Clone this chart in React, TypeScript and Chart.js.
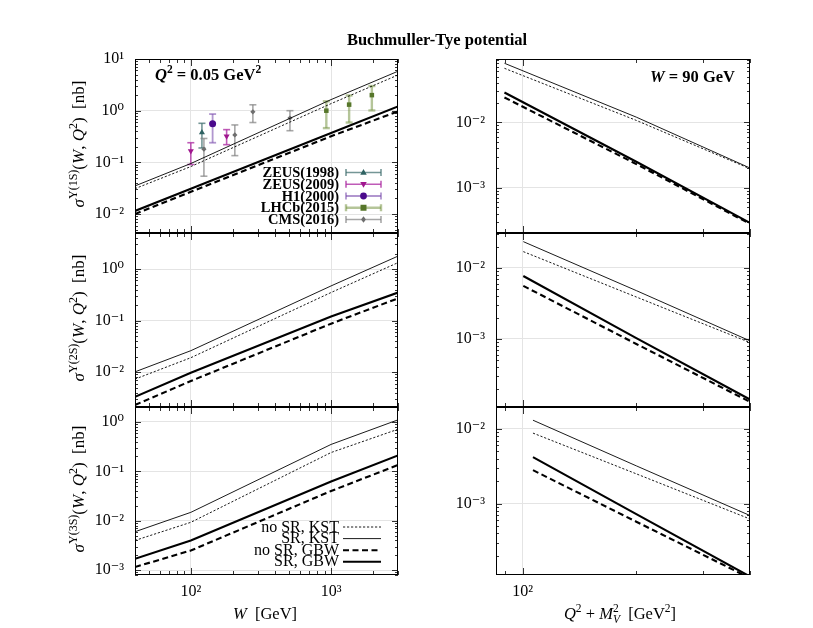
import { useEffect, useRef } from "react";
import { Chart, registerables } from "chart.js";

Chart.register(...registerables);

const FONT = '"Liberation Serif", "DejaVu Serif", serif';

// ---------------- data ----------------
// left column: cross section vs W at Q^2 = 0.05 GeV^2
const W_GEV = [40, 100, 1000, 3000];
const U1S_NOSR_KST = [0.031, 0.083, 1.37, 4.9];
const U1S_SR_KST = [0.035, 0.095, 1.64, 5.8];
const U1S_NOSR_GBW = [0.01, 0.027, 0.32, 0.97];
const U1S_SR_GBW = [0.0115, 0.031, 0.37, 1.21];

const U2S_NOSR_KST = [0.0073, 0.019, 0.35, 1.33];
const U2S_SR_KST = [0.0101, 0.026, 0.47, 1.78];
const U2S_NOSR_GBW = [0.0023, 0.0067, 0.087, 0.27];
const U2S_SR_GBW = [0.0033, 0.0097, 0.12, 0.35];

const U3S_NOSR_KST = [0.004, 0.0093, 0.24, 0.71];
const U3S_SR_KST = [0.006, 0.0148, 0.35, 1.1];
const U3S_NOSR_GBW = [0.00116, 0.0025, 0.04, 0.134];
const U3S_SR_GBW = [0.0017, 0.004, 0.062, 0.21];

// right column: cross section vs Q^2 + M_V^2 at W = 90 GeV
const Q2M2_1S = [89.5, 200, 400];
const Q1S_NOSR_KST = [0.067, 0.0107, 0.00195];
const Q1S_SR_KST = [0.08, 0.012, 0.002];
const Q1S_NOSR_GBW = [0.024, 0.0023, 0.00028];
const Q1S_SR_GBW = [0.0286, 0.0025, 0.00029];

const Q2M2_2S = [100.4, 200, 400];
const Q2S_NOSR_KST = [0.017, 0.0039, 0.00089];
const Q2S_SR_KST = [0.0235, 0.0048, 0.00094];
const Q2S_NOSR_GBW = [0.0056, 0.00085, 0.00013];
const Q2S_SR_GBW = [0.0077, 0.00103, 0.00014];

const Q2M2_3S = [106.5, 200, 400];
const Q3S_NOSR_KST = [0.0088, 0.0025, 0.00062];
const Q3S_SR_KST = [0.0131, 0.0032, 0.00069];
const Q3S_NOSR_GBW = [0.0028, 0.00057, 0.0001];
const Q3S_SR_GBW = [0.0042, 0.00072, 0.000105];

// experimental data, Upsilon(1S) photoproduction
const ZEUS1998_W = [120];
const ZEUS1998_S = [0.38];
const ZEUS1998_LO = [0.19];
const ZEUS1998_HI = [0.57];

const ZEUS2009_W = [100, 180];
const ZEUS2009_S = [0.166, 0.32];
const ZEUS2009_LO = [0.091, 0.22];
const ZEUS2009_HI = [0.24, 0.43];

const H1_W = [143];
const H1_S = [0.556];
const H1_LO = [0.24];
const H1_HI = [0.86];

const LHCB_W = [925, 1345, 1953];
const LHCB_S = [1.0, 1.31, 2.0];
const LHCB_LO = [0.46, 0.59, 1.01];
const LHCB_HI = [1.52, 1.97, 3.0];

const CMS_W = [124, 206, 277, 509];
const CMS_S = [0.18, 0.34, 0.95, 0.72];
const CMS_LO = [0.054, 0.135, 0.59, 0.41];
const CMS_HI = [0.29, 0.53, 1.3, 1.0];

const LINE_LABELS = ["no SR, KST", "SR, KST", "no SR, GBW", "SR, GBW"];
const X_MAJOR_W = [100, 1000];
const X_MAJOR_Q = [100];

// ---------------- styling ----------------
const LINE_STYLES = [
  { width: 0.9, dash: [2.2, 1.8] },
  { width: 0.9, dash: [] as number[] },
  { width: 2.1, dash: [6, 3.5] },
  { width: 2.1, dash: [] as number[] },
];

type PtGroup = {
  label: string;
  x: number[];
  y: number[];
  lo: number[];
  hi: number[];
  marker: string;
  color: string;
  bar: string;
  barW: number;
};

const GROUPS: PtGroup[] = [
  { label: "ZEUS(1998)", x: ZEUS1998_W, y: ZEUS1998_S, lo: ZEUS1998_LO, hi: ZEUS1998_HI, marker: "tri", color: "#2f6262", bar: "rgba(70,115,115,0.75)", barW: 1.6 },
  { label: "ZEUS(2009)", x: ZEUS2009_W, y: ZEUS2009_S, lo: ZEUS2009_LO, hi: ZEUS2009_HI, marker: "tridown", color: "#a0168e", bar: "rgba(175,50,165,0.8)", barW: 1.6 },
  { label: "H1(2000)", x: H1_W, y: H1_S, lo: H1_LO, hi: H1_HI, marker: "circle", color: "#4b0a8c", bar: "rgba(125,80,175,0.6)", barW: 1.8 },
  { label: "LHCb(2015)", x: LHCB_W, y: LHCB_S, lo: LHCB_LO, hi: LHCB_HI, marker: "square", color: "#56762a", bar: "rgba(120,150,70,0.55)", barW: 2.4 },
  { label: "CMS(2016)", x: CMS_W, y: CMS_S, lo: CMS_LO, hi: CMS_HI, marker: "diamond", color: "#6e6e6e", bar: "rgba(130,130,130,0.7)", barW: 1.6 },
];

const SUP: Record<string, string> = {
  "-": "\u207B", "0": "\u2070", "1": "\u00B9", "2": "\u00B2", "3": "\u00B3",
  "4": "\u2074", "5": "\u2075", "6": "\u2076", "7": "\u2077", "8": "\u2078", "9": "\u2079",
};
function decadeLabel(v: number) {
  const e = Math.round(Math.log10(v));
  return "10" + String(e).split("").map((c) => SUP[c]).join("");
}

type Seg = { t: string; s?: number; i?: boolean; dy?: number; na?: boolean };
function segFont(sg: Seg, base: number, bold: boolean) {
  return `${sg.i ? "italic " : ""}${bold ? "bold " : ""}${sg.s ?? base}px ${FONT}`;
}
function drawRich(ctx: CanvasRenderingContext2D, segs: Seg[], x: number, y: number, align: string, base: number, bold = false, rot = false) {
  ctx.save();
  let w = 0;
  for (const sg of segs) {
    ctx.font = segFont(sg, base, bold);
    if (!sg.na) w += ctx.measureText(sg.t).width;
  }
  ctx.translate(x, y);
  if (rot) ctx.rotate(-Math.PI / 2);
  let cx = align === "left" ? 0 : align === "center" ? -w / 2 : -w;
  ctx.fillStyle = "#000";
  ctx.textBaseline = "alphabetic";
  ctx.textAlign = "left";
  for (const sg of segs) {
    ctx.font = segFont(sg, base, bold);
    ctx.fillText(sg.t, cx, sg.dy ?? 0);
    if (!sg.na) cx += ctx.measureText(sg.t).width;
  }
  ctx.restore();
}

function drawMarker(ctx: CanvasRenderingContext2D, m: string, x: number, y: number, color: string) {
  ctx.save();
  ctx.fillStyle = color;
  ctx.beginPath();
  const r = 3.6;
  if (m === "tri") {
    ctx.moveTo(x, y - r); ctx.lineTo(x + r * 0.9, y + r * 0.6); ctx.lineTo(x - r * 0.9, y + r * 0.6);
  } else if (m === "tridown") {
    ctx.moveTo(x, y + r); ctx.lineTo(x + r * 0.9, y - r * 0.6); ctx.lineTo(x - r * 0.9, y - r * 0.6);
  } else if (m === "circle") {
    ctx.arc(x, y, 3.4, 0, Math.PI * 2);
  } else if (m === "square") {
    ctx.rect(x - 3, y - 3, 6, 6);
  } else {
    ctx.moveTo(x, y - 3.2); ctx.lineTo(x + 2.4, y); ctx.lineTo(x, y + 3.2); ctx.lineTo(x - 2.4, y);
  }
  ctx.closePath();
  ctx.fill();
  ctx.restore();
}

function logTicks(min: number, max: number) {
  const res: { v: number; major: boolean }[] = [];
  for (let e = Math.floor(Math.log10(min)); e <= Math.ceil(Math.log10(max)); e++) {
    for (let k = 1; k < 10; k++) {
      const v = k * Math.pow(10, e);
      if (v >= min * 0.999 && v <= max * 1.001) res.push({ v, major: k === 1 });
    }
  }
  return res;
}

function line(ctx: CanvasRenderingContext2D, x1: number, y1: number, x2: number, y2: number) {
  ctx.beginPath();
  ctx.moveTo(x1, y1);
  ctx.lineTo(x2, y2);
  ctx.stroke();
}

type Panel = {
  area: { l: number; t: number; r: number; b: number };
  xMin: number; xMax: number; yMin: number; yMax: number;
  xMajor: number[]; yMajor: number[];
  showX: boolean;
  xs: number[];
  series: number[][];
  points?: boolean;
  draw?: (ctx: CanvasRenderingContext2D) => void;
};

const YW = 60;
const XH = 40;
const CW = 813;
const CH = 628;

const SUP_S = 12;
const SUP_DY = -7;

function yLabel(state: string, cy: number) {
  return (ctx: CanvasRenderingContext2D) =>
    drawRich(ctx, [
      { t: "\u03C3", i: true },
      { t: "\u03A5(" + state + ")", s: SUP_S, dy: SUP_DY },
      { t: "(" },
      { t: "W", i: true },
      { t: ", " },
      { t: "Q", i: true },
      { t: "2", s: SUP_S, dy: SUP_DY },
      { t: ")  [nb]" },
    ], 84, cy, "center", 17, false, true);
}

function drawDataLegend(ctx: CanvasRenderingContext2D) {
  GROUPS.forEach((g, i) => {
    const cy = 172.5 + 11.75 * i;
    drawRich(ctx, [{ t: g.label }], 339, cy + 4.5, "right", 14.5, true);
    ctx.save();
    ctx.strokeStyle = g.bar;
    ctx.lineWidth = g.barW;
    line(ctx, 346, cy, 381, cy);
    line(ctx, 346, cy - 3.5, 346, cy + 3.5);
    line(ctx, 381, cy - 3.5, 381, cy + 3.5);
    ctx.restore();
    drawMarker(ctx, g.marker, 363.5, cy, g.color);
  });
}

function drawLineLegend(ctx: CanvasRenderingContext2D) {
  LINE_LABELS.forEach((lab, i) => {
    const cy = 527 + 11.6 * i;
    drawRich(ctx, [{ t: lab }], 339, cy + 4.5, "right", 16);
    ctx.save();
    ctx.strokeStyle = "#000";
    ctx.lineWidth = LINE_STYLES[i].width;
    ctx.setLineDash(LINE_STYLES[i].dash);
    line(ctx, 343, cy, 381, cy);
    ctx.restore();
  });
}

const L = { l: 135, r: 398 };
const R = { l: 496, r: 750 };
const ROWS = [
  { t: 59, b: 233 },
  { t: 233, b: 407 },
  { t: 407, b: 575 },
];

const PANELS: Panel[] = [
  {
    area: { ...L, ...ROWS[0] }, xMin: 40, xMax: 3000, yMin: 0.0043, yMax: 10,
    xMajor: X_MAJOR_W, yMajor: [10, 1, 0.1, 0.01], showX: false,
    xs: W_GEV, series: [U1S_NOSR_KST, U1S_SR_KST, U1S_NOSR_GBW, U1S_SR_GBW], points: true,
    draw: (ctx) => {
      yLabel("1S", 144)(ctx);
      drawRich(ctx, [
        { t: "Q", i: true }, { t: "2", s: 11.5, dy: -7 }, { t: " = 0.05 GeV" }, { t: "2", s: 11.5, dy: -7 },
      ], 155, 80, "left", 16.5, true);
      drawDataLegend(ctx);
      drawRich(ctx, [{ t: "Buchmuller-Tye potential" }], 437, 45, "center", 16.5, true);
    },
  },
  {
    area: { ...R, ...ROWS[0] }, xMin: 85, xMax: 400, yMin: 0.000203, yMax: 0.093,
    xMajor: X_MAJOR_Q, yMajor: [0.01, 0.001], showX: false,
    xs: Q2M2_1S, series: [Q1S_NOSR_KST, Q1S_SR_KST, Q1S_NOSR_GBW, Q1S_SR_GBW],
    draw: (ctx) => {
      drawRich(ctx, [{ t: "W", i: true }, { t: " = 90 GeV" }], 735, 82, "right", 16.5, true);
    },
  },
  {
    area: { ...L, ...ROWS[1] }, xMin: 40, xMax: 3000, yMin: 0.0021, yMax: 5,
    xMajor: X_MAJOR_W, yMajor: [1, 0.1, 0.01], showX: false,
    xs: W_GEV, series: [U2S_NOSR_KST, U2S_SR_KST, U2S_NOSR_GBW, U2S_SR_GBW],
    draw: yLabel("2S", 318),
  },
  {
    area: { ...R, ...ROWS[1] }, xMin: 85, xMax: 400, yMin: 0.00011, yMax: 0.0311,
    xMajor: X_MAJOR_Q, yMajor: [0.01, 0.001], showX: false,
    xs: Q2M2_2S, series: [Q2S_NOSR_KST, Q2S_SR_KST, Q2S_NOSR_GBW, Q2S_SR_GBW],
  },
  {
    area: { ...L, ...ROWS[2] }, xMin: 40, xMax: 3000, yMin: 0.0008, yMax: 2,
    xMajor: X_MAJOR_W, yMajor: [1, 0.1, 0.01, 0.001], showX: true,
    xs: W_GEV, series: [U3S_NOSR_KST, U3S_SR_KST, U3S_NOSR_GBW, U3S_SR_GBW],
    draw: (ctx) => {
      yLabel("3S", 489)(ctx);
      drawLineLegend(ctx);
      drawRich(ctx, [{ t: "W", i: true }, { t: "  [GeV]" }], 265, 619, "center", 16.5);
    },
  },
  {
    area: { ...R, ...ROWS[2] }, xMin: 85, xMax: 400, yMin: 0.00011, yMax: 0.0197,
    xMajor: X_MAJOR_Q, yMajor: [0.01, 0.001], showX: true,
    xs: Q2M2_3S, series: [Q3S_NOSR_KST, Q3S_SR_KST, Q3S_NOSR_GBW, Q3S_SR_GBW],
    draw: (ctx) => {
      drawRich(ctx, [
        { t: "Q", i: true }, { t: "2", s: 11.5, dy: -7 }, { t: " + " }, { t: "M", i: true },
        { t: "2", s: 11.5, dy: -7, na: true }, { t: "V", s: 11.5, dy: 4, i: true }, { t: "  [GeV" },
        { t: "2", s: 11.5, dy: -7 }, { t: "]" },
      ], 620, 619, "center", 16.5);
    },
  },
];

function makeConfig(p: Panel): any {
  const datasets: any[] = p.series.map((ys, k) => ({
    label: LINE_LABELS[k],
    data: p.xs.map((x, i) => ({ x, y: ys[i] })),
    borderColor: "#000",
    borderWidth: LINE_STYLES[k].width,
    borderDash: LINE_STYLES[k].dash,
    pointRadius: 0,
    fill: false,
    tension: 0,
  }));
  if (p.points) {
    for (const g of GROUPS) {
      datasets.push({
        label: g.label,
        data: g.x.map((x, i) => ({ x, y: g.y[i] })),
        showLine: false,
        pointStyle: g.marker === "tri" || g.marker === "tridown" ? "triangle" : g.marker === "square" ? "rect" : g.marker === "diamond" ? "rectRot" : "circle",
        rotation: g.marker === "tridown" ? 180 : 0,
        pointRadius: g.marker === "diamond" ? 2.6 : g.marker === "square" ? 3.2 : 3.5,
        pointBackgroundColor: g.color,
        pointBorderColor: g.color,
        pointBorderWidth: 0,
      });
    }
  }

  const decor = {
    id: "decor",
    beforeDatasetsDraw(chart: any) {
      if (!p.points) return;
      const ctx: CanvasRenderingContext2D = chart.ctx;
      const xs = chart.scales.x;
      const ys = chart.scales.y;
      ctx.save();
      for (const g of GROUPS) {
        ctx.strokeStyle = g.bar;
        ctx.lineWidth = g.barW;
        g.x.forEach((x, i) => {
          const px = xs.getPixelForValue(x);
          const lo = ys.getPixelForValue(g.lo[i]);
          const hi = ys.getPixelForValue(g.hi[i]);
          line(ctx, px, lo, px, hi);
          line(ctx, px - 3.5, lo, px + 3.5, lo);
          line(ctx, px - 3.5, hi, px + 3.5, hi);
        });
      }
      ctx.restore();
    },
    afterDatasetsDraw(chart: any) {
      const ctx: CanvasRenderingContext2D = chart.ctx;
      const a = chart.chartArea;
      const xs = chart.scales.x;
      const ys = chart.scales.y;
      ctx.save();
      ctx.strokeStyle = "#000";
      ctx.lineWidth = 0.8;
      for (const t of logTicks(p.yMin, p.yMax)) {
        const py = Math.round(ys.getPixelForValue(t.v)) + 0.5;
        const len = t.major ? 6 : 3;
        line(ctx, a.left, py, a.left + len, py);
        line(ctx, a.right - len, py, a.right, py);
      }
      for (const t of logTicks(p.xMin, p.xMax)) {
        const px = Math.round(xs.getPixelForValue(t.v)) + 0.5;
        const len = t.major ? 7 : 4;
        line(ctx, px, a.bottom, px, a.bottom - len);
        line(ctx, px, a.top, px, a.top + len);
      }
      ctx.lineWidth = 1;
      ctx.strokeRect(a.left + 0.5, a.top + 0.5, a.right - a.left - 1, a.bottom - a.top - 1);
      ctx.restore();
      if (p.draw) p.draw(ctx);
    },
  };

  return {
    type: "line",
    data: { datasets },
    options: {
      animation: false,
      responsive: false,
      devicePixelRatio: 1,
      layout: {
        padding: {
          left: p.area.l - YW,
          top: p.area.t,
          right: CW - p.area.r,
          bottom: CH - p.area.b - XH,
        },
      },
      plugins: { legend: { display: false }, tooltip: { enabled: false } },
      scales: {
        x: {
          type: "logarithmic",
          min: p.xMin,
          max: p.xMax,
          afterFit: (s: any) => { s.height = XH; },
          afterBuildTicks: (s: any) => { s.ticks = p.xMajor.map((v) => ({ value: v })); },
          grid: { color: "#e4e4e4", drawTicks: false, lineWidth: 1 },
          border: { display: false },
          ticks: {
            display: p.showX,
            callback: (v: any) => decadeLabel(Number(v)),
            font: { family: FONT, size: 16 },
            color: "#000",
            padding: 7,
            autoSkip: false,
            maxRotation: 0,
          },
        },
        y: {
          type: "logarithmic",
          position: "left",
          min: p.yMin,
          max: p.yMax,
          afterFit: (s: any) => { s.width = YW; },
          afterBuildTicks: (s: any) => { s.ticks = p.yMajor.map((v) => ({ value: v })); },
          grid: { color: "#e4e4e4", drawTicks: false, lineWidth: 1 },
          border: { display: false },
          ticks: {
            callback: (v: any) => decadeLabel(Number(v)),
            font: { family: FONT, size: 16 },
            color: "#000",
            padding: 11,
            autoSkip: false,
          },
        },
      },
    },
    plugins: [decor],
  };
}

function PanelCanvas({ p }: { p: Panel }) {
  const ref = useRef<HTMLCanvasElement | null>(null);
  useEffect(() => {
    if (!ref.current) return;
    const chart = new Chart(ref.current, makeConfig(p));
    return () => chart.destroy();
  }, [p]);
  return (
    <canvas
      ref={ref}
      width={CW}
      height={CH}
      style={{ position: "absolute", left: 0, top: 0, width: CW, height: CH }}
    />
  );
}

export default function App() {
  return (
    <div style={{ position: "fixed", left: 0, top: 0, width: CW, height: CH, background: "#fff", overflow: "hidden" }}>
      {PANELS.map((p, i) => (
        <PanelCanvas key={i} p={p} />
      ))}
    </div>
  );
}
